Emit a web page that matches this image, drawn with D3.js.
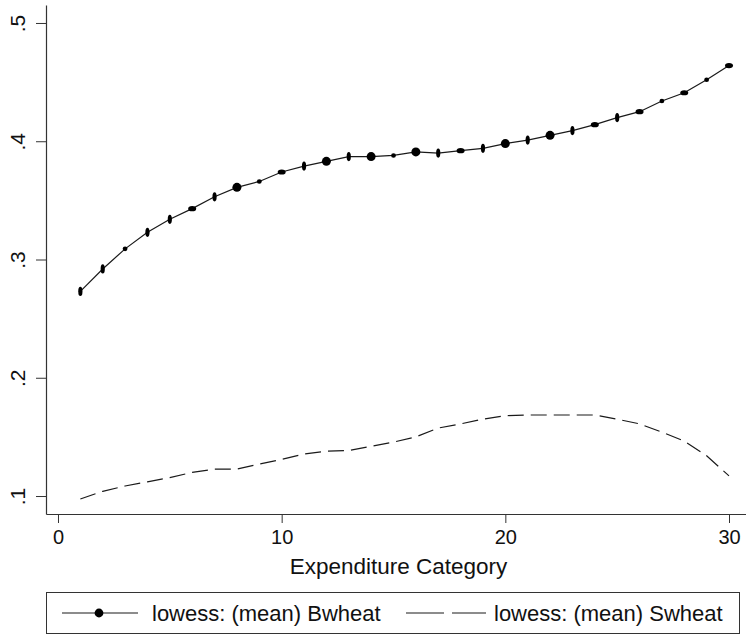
<!DOCTYPE html>
<html>
<head>
<meta charset="utf-8">
<script src="https://cdn.jsdelivr.net/npm/d3@7"></script>
<style>
  html, body { margin: 0; padding: 0; background: #fff; }
  svg { display: block; }
  text { font-family: "Liberation Sans", Arial, Helvetica, sans-serif; fill: #111; }
</style>
</head>
<body>
<svg id="chart" width="746" height="638"></svg>
<script>
// Expenditure categories 1..30
const categories = [1,2,3,4,5,6,7,8,9,10,11,12,13,14,15,16,17,18,19,20,21,22,23,24,25,26,27,28,29,30];

// lowess smoothed mean budget share, Bwheat
const bwheat = [0.273,0.292,0.309,0.323,0.334,0.343,0.353,0.361,0.366,0.374,
                0.379,0.383,0.387,0.387,0.388,0.391,0.390,0.392,0.394,0.398,
                0.401,0.405,0.409,0.414,0.420,0.425,0.434,0.441,0.452,0.464];

// lowess smoothed mean budget share, Swheat
const swheat = [0.0975,0.104,0.1085,0.112,0.1156,0.120,0.1228,0.1228,0.127,0.131,
                0.1355,0.138,0.1385,0.142,0.1456,0.150,0.1575,0.161,0.165,0.168,
                0.1685,0.1685,0.1685,0.1685,0.165,0.161,0.154,0.1465,0.134,0.117];

// marker outline per Bwheat point: v = tall, h = wide, c = large round, s = small
const bwheatMarker = ["v","v","s","v","v","h","v","c","s","h",
                      "v","c","v","c","s","c","v","h","v","c",
                      "v","c","v","h","v","h","s","h","s","h"];

const xTicks = [0, 10, 20, 30];
const yTicks = [0.1, 0.2, 0.3, 0.4, 0.5];
const yTickLabels = [".1", ".2", ".3", ".4", ".5"];

const seriesNames = ["lowess: (mean) Bwheat", "lowess: (mean) Swheat"];
const xTitle = "Expenditure Category";

const svg = d3.select("#chart");
const axisColor = "#333";

// plot region
const plotLeft = 46, plotRight = 746, plotTop = 5, plotBottom = 514;

const x = d3.scaleLinear().domain([-0.536, 30.76]).range([plotLeft, plotRight]);
const y = d3.scaleLinear().domain([0.0848, 0.5152]).range([plotBottom, plotTop]);

// x axis
const xAxis = svg.append("g")
  .attr("transform", `translate(0,${plotBottom})`)
  .call(d3.axisBottom(x).tickValues(xTicks).tickFormat(d3.format("d")).tickSize(9).tickPadding(7).tickSizeOuter(0));
xAxis.select(".domain").attr("stroke", axisColor).attr("stroke-width", 1.2);
xAxis.selectAll(".tick line").attr("stroke", axisColor).attr("stroke-width", 1);
xAxis.selectAll(".tick text")
  .attr("font-size", "20px")
  .attr("font-family", "Liberation Sans, Arial, sans-serif")
  .attr("fill", "#111");

// y axis with rotated tick labels
const yAxis = svg.append("g")
  .attr("transform", `translate(${plotLeft},0)`)
  .call(d3.axisLeft(y).tickValues(yTicks).tickFormat((d, i) => yTickLabels[i]).tickSize(10).tickSizeOuter(0));
yAxis.select(".domain").attr("stroke", axisColor).attr("stroke-width", 1.2);
yAxis.selectAll(".tick line").attr("stroke", axisColor).attr("stroke-width", 1);
yAxis.selectAll(".tick text")
  .attr("font-size", "21px")
  .attr("font-family", "Liberation Sans, Arial, sans-serif")
  .attr("fill", "#111")
  .attr("text-anchor", "middle")
  .attr("x", null)
  .attr("dy", null)
  .attr("transform", "translate(-29,0) rotate(-90)")
  .attr("y", 0)
  .attr("dominant-baseline", "central");

// x axis title
svg.append("text")
  .attr("x", 398.5)
  .attr("y", 574)
  .attr("text-anchor", "middle")
  .attr("font-size", "22.5px")
  .text(xTitle);

const line = d3.line()
  .x((d, i) => x(categories[i]))
  .y(d => y(d));

// Swheat dashed curve
svg.append("path")
  .datum(swheat)
  .attr("d", line)
  .attr("fill", "none")
  .attr("stroke", "#1a1a1a")
  .attr("stroke-width", 1.2)
  .attr("stroke-dasharray", "16,7");

// Bwheat connected curve with markers
svg.append("path")
  .datum(bwheat)
  .attr("d", line)
  .attr("fill", "none")
  .attr("stroke", "#1a1a1a")
  .attr("stroke-width", 1.2);

const markerSize = {
  v: [2.1, 4.6],
  h: [4.0, 2.6],
  c: [4.5, 4.5],
  s: [2.4, 2.3]
};

svg.append("g")
  .selectAll("ellipse")
  .data(bwheat)
  .join("ellipse")
  .attr("cx", (d, i) => x(categories[i]))
  .attr("cy", d => y(d))
  .attr("rx", (d, i) => markerSize[bwheatMarker[i]][0])
  .attr("ry", (d, i) => markerSize[bwheatMarker[i]][1])
  .attr("fill", "#000");

// legend
const legend = svg.append("g");
legend.append("rect")
  .attr("x", 46.5).attr("y", 592.5)
  .attr("width", 693).attr("height", 41)
  .attr("fill", "#fff")
  .attr("stroke", axisColor)
  .attr("stroke-width", 1);

const legY = 613;
legend.append("line")
  .attr("x1", 62).attr("x2", 138).attr("y1", legY).attr("y2", legY)
  .attr("stroke", "#1a1a1a").attr("stroke-width", 1.2);
legend.append("circle")
  .attr("cx", 99).attr("cy", legY).attr("r", 4.4).attr("fill", "#000");
legend.append("text")
  .attr("x", 152).attr("y", legY + 8)
  .attr("font-size", "22px")
  .text(seriesNames[0]);

legend.append("line")
  .attr("x1", 406).attr("x2", 486).attr("y1", legY).attr("y2", legY)
  .attr("stroke", "#1a1a1a").attr("stroke-width", 1.2)
  .attr("stroke-dasharray", "38,8");
legend.append("text")
  .attr("x", 494).attr("y", legY + 8)
  .attr("font-size", "22px")
  .text(seriesNames[1]);
</script>
</body>
</html>
